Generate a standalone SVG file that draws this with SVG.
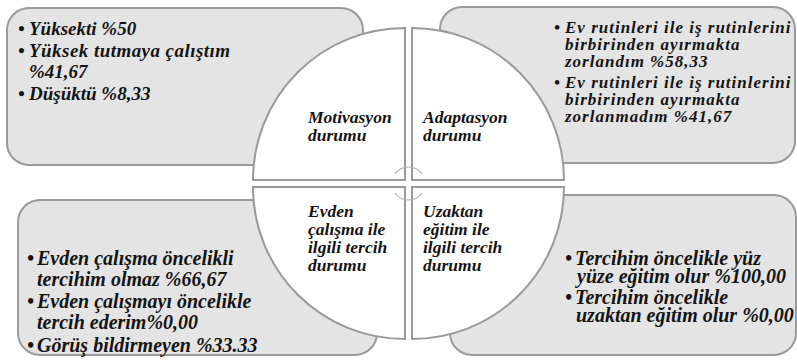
<svg xmlns="http://www.w3.org/2000/svg" width="797" height="360" viewBox="0 0 797 360">
<style>
.box{fill:#e4e4e4;stroke:#9a9a9a;stroke-width:2}
.quad{fill:#ffffff;stroke:#9a9a9a;stroke-width:2}
text{font-family:'Liberation Serif','Times New Roman',serif;font-weight:bold;font-style:italic;fill:#141414}
.tl{font-size:19px}
.bl{font-size:20px}
.mid{font-size:17px;letter-spacing:1px}
.lab{font-size:17.5px}
.arc{fill:none;stroke:#b0b0b0;stroke-width:1.2}
</style>
<rect width="797" height="360" fill="#ffffff"/>
<g id="box-top-left">
<rect class="box" x="7" y="8" width="356" height="157" rx="22"/>
<text class="tl"><tspan x="18" y="35">•</tspan><tspan x="29" y="35">Yüksekti %50</tspan></text>
<text class="tl"><tspan x="18" y="57">•</tspan><tspan x="29" y="57" textLength="201" lengthAdjust="spacing">Yüksek tutmaya çalıştım</tspan><tspan x="29" y="78">%41,67</tspan></text>
<text class="tl"><tspan x="18" y="100">•</tspan><tspan x="29" y="100">Düşüktü %8,33</tspan></text>
</g>
<g id="box-top-right">
<rect class="box" x="440" y="7" width="355" height="156" rx="22"/>
<text class="mid"><tspan x="554" y="33">•</tspan><tspan x="565" y="33">Ev rutinleri ile iş rutinlerini</tspan><tspan x="565" y="50">birbirinden ayırmakta</tspan><tspan x="565" y="67">zorlandım %58,33</tspan></text>
<text class="mid"><tspan x="554" y="88">•</tspan><tspan x="565" y="88">Ev rutinleri ile iş rutinlerini</tspan><tspan x="565" y="105">birbirinden ayırmakta</tspan><tspan x="565" y="122">zorlanmadım %41,67</tspan></text>
</g>
<g id="box-bottom-left">
<rect class="box" x="18" y="200" width="359" height="155" rx="22"/>
<text class="bl"><tspan x="27" y="265">•</tspan><tspan x="37" y="265">Evden çalışma öncelikli</tspan><tspan x="37" y="286">tercihim olmaz %66,67</tspan></text>
<text class="bl"><tspan x="27" y="308">•</tspan><tspan x="37" y="308">Evden çalışmayı öncelikle</tspan><tspan x="37" y="329">tercih ederim%0,00</tspan></text>
<text class="bl"><tspan x="27" y="352">•</tspan><tspan x="37" y="352">Görüş bildirmeyen %33.33</tspan></text>
</g>
<g id="box-bottom-right">
<rect class="box" x="450" y="195" width="346" height="160" rx="22"/>
<text class="bl"><tspan x="565" y="265">•</tspan><tspan x="575" y="265">Tercihim öncelikle yüz</tspan><tspan x="577" y="283">yüze eğitim olur %100,00</tspan></text>
<text class="bl"><tspan x="565" y="304">•</tspan><tspan x="575" y="304">Tercihim öncelikle</tspan><tspan x="576" y="322">uzaktan eğitim olur %0,00</tspan></text>
</g>
<g id="quad-motivasyon">
<path class="quad" d="M405,180 L253,180 A152,152 0 0 1 405,28 Z"/>
<text class="lab"><tspan x="308" y="123">Motivasyon</tspan><tspan x="308" y="141">durumu</tspan></text>
</g>
<g id="quad-adaptasyon">
<path class="quad" d="M412,180 L412,28 A152,152 0 0 1 564,180 Z"/>
<text class="lab"><tspan x="423" y="123">Adaptasyon</tspan><tspan x="423" y="141">durumu</tspan></text>
</g>
<g id="quad-evden">
<path class="quad" d="M405,187 L405,339 A152,152 0 0 1 253,187 Z"/>
<text class="lab"><tspan x="308" y="217">Evden</tspan><tspan x="308" y="235">çalışma ile</tspan><tspan x="308" y="253">ilgili tercih</tspan><tspan x="308" y="271">durumu</tspan></text>
</g>
<g id="quad-uzaktan">
<path class="quad" d="M412,187 L564,187 A152,152 0 0 1 412,339 Z"/>
<text class="lab"><tspan x="423" y="217">Uzaktan</tspan><tspan x="423" y="235">eğitim ile</tspan><tspan x="423" y="253">ilgili tercih</tspan><tspan x="423" y="271">durumu</tspan></text>
</g>
<g id="connectors">
<path class="arc" d="M395,174 A16.5,16.5 0 0 1 422,174"/>
<path class="arc" d="M395,193 A16.5,16.5 0 0 0 422,193"/>
</g>
</svg>
